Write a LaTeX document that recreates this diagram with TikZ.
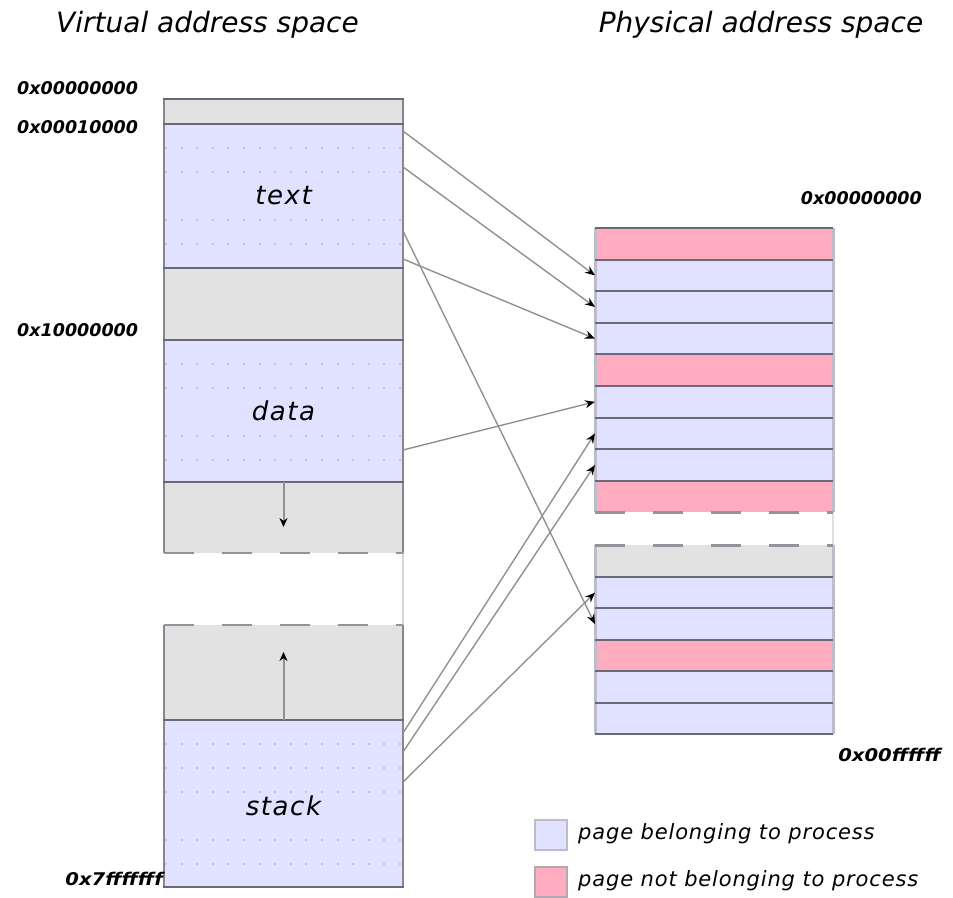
\documentclass[tikz,border=0pt]{standalone}
\usepackage{fontspec}
\setmainfont{DejaVu Sans}
\usetikzlibrary{arrows.meta}
\definecolor{pblue}{RGB}{224,226,255}
\definecolor{ppink}{RGB}{255,172,192}
\definecolor{pgray}{RGB}{226,226,226}
\definecolor{vborder}{RGB}{135,135,145}
\definecolor{hline}{RGB}{105,105,120}
\definecolor{pside}{RGB}{188,188,202}
\definecolor{dotc}{RGB}{195,195,210}
\definecolor{arrc}{RGB}{145,145,145}
\begin{document}
\begin{tikzpicture}[x=1pt,y=-1pt,
  vseg/.style={rectangle,inner sep=0pt,outer sep=0pt,minimum width=239pt,anchor=north west},
  pseg/.style={rectangle,inner sep=0pt,outer sep=0pt,minimum width=238pt,minimum height=31.6pt,anchor=north west},
  sepline/.style={draw=hline,line width=2pt},
  outline/.style={draw=vborder,line width=2pt},
  sideline/.style={draw=pside,line width=3pt},
  gapdash/.style={draw=vborder!90,line width=2.2pt,dash pattern=on 30pt off 28pt},
  dotrow/.style={draw=dotc,line width=2pt,dash pattern=on 2pt off 13.6pt},
  maparrow/.style={draw=arrc,line width=1.4pt,-{Stealth[length=10pt,width=8pt,black]}},
  growarrow/.style={draw=arrc,line width=2pt,-{Stealth[length=9pt,width=8pt,black]}},
  addrlbl/.style={font=\fontsize{17.5}{20}\selectfont\bfseries\itshape,inner sep=0pt},
  ttl/.style={font=\fontsize{28}{32}\selectfont\itshape,inner sep=0pt,anchor=base},
  seglabel/.style={font=\fontsize{26}{30}\selectfont\itshape\addfontfeature{LetterSpace=6},inner sep=0pt},
  legtext/.style={font=\fontsize{21}{24}\selectfont\itshape\addfontfeature{LetterSpace=4},inner sep=0pt,anchor=west},
  legbox/.style={rectangle,inner sep=0pt,minimum width=32pt,minimum height=30pt,line width=2pt}
]
\useasboundingbox (0,0) rectangle (953,897);

% titles
\node[ttl] (tv) at (207.5,32) {Virtual address space};
\node[ttl] (tp) at (761,32) {Physical address space};

% ---------- virtual address space ----------
\node[vseg,fill=pgray,minimum height=25pt] (v0) at (164,99) {};
\node[vseg,fill=pblue,minimum height=144pt] (vtext) at (164,124) {};
\node[vseg,fill=pgray,minimum height=72pt] (v1) at (164,268) {};
\node[vseg,fill=pblue,minimum height=142pt] (vdata) at (164,340) {};
\node[vseg,fill=pgray,minimum height=71pt] (vheap) at (164,482) {};
\node[vseg,fill=pgray,minimum height=95pt] (vfree) at (164,625) {};
\node[vseg,fill=pblue,minimum height=167pt] (vstack) at (164,720) {};

% dotted page rows
\foreach \y in {148,172,220,244,364,388,436,460,744,768,792,840,864}
  \draw[dotrow] (165,\y) -- (403,\y);

% outline and separators
\draw[outline] (164,99) -- (164,553);
\draw[outline] (403,99) -- (403,553);
\draw[outline] (164,625) -- (164,887);
\draw[outline] (403,625) -- (403,887);
\draw[draw=pside!60,line width=2pt] (403,553) -- (403,625);
\foreach \y in {99,124,268,340,482,720,887}
  \draw[sepline] (163,\y) -- (404,\y);
\draw[gapdash] (164,553) -- (403,553);
\draw[gapdash] (164,625) -- (403,625);

% segment labels
\node[seglabel] (ltext) at (283.5,196) {text};
\node[seglabel] (ldata) at (283.5,411) {data};
\node[seglabel] (lstack) at (283.5,806) {stack};

% growth arrows
\coordinate (hd) at (283.5,527);
\coordinate (su) at (283.5,652);
\draw[growarrow] (vheap.north) -- (hd);
\draw[growarrow] (vstack.north) -- (su);

% virtual addresses
\node[addrlbl,anchor=west] (a0) at (17,88) {0x00000000};
\node[addrlbl,anchor=west] (a1) at (17,127) {0x00010000};
\node[addrlbl,anchor=west] (a2) at (17,330) {0x10000000};
\node[addrlbl,anchor=east] (a3) at (163,879) {\scalebox{1.12}[1]{0x7fffffff}};

% ---------- physical address space ----------
\node[pseg,fill=ppink] (p1) at (595,228) {};
\node[pseg,fill=pblue] (p2) at (595,259.6) {};
\node[pseg,fill=pblue] (p3) at (595,291.2) {};
\node[pseg,fill=pblue] (p4) at (595,322.8) {};
\node[pseg,fill=ppink] (p5) at (595,354.4) {};
\node[pseg,fill=pblue] (p6) at (595,386) {};
\node[pseg,fill=pblue] (p7) at (595,417.6) {};
\node[pseg,fill=pblue] (p8) at (595,449.2) {};
\node[pseg,fill=ppink] (p9) at (595,480.8) {};
\node[pseg,fill=pgray,minimum height=31.5pt] (q1) at (595,545.4) {};
\node[pseg,fill=pblue,minimum height=31.5pt] (q2) at (595,576.9) {};
\node[pseg,fill=pblue,minimum height=31.5pt] (q3) at (595,608.4) {};
\node[pseg,fill=ppink,minimum height=31.5pt] (q4) at (595,639.9) {};
\node[pseg,fill=pblue,minimum height=31.5pt] (q5) at (595,671.4) {};
\node[pseg,fill=pblue,minimum height=31.5pt] (q6) at (595,702.9) {};

\draw[sideline] (595,228) -- (595,512.4);
\draw[sideline] (833,228) -- (833,512.4);
\draw[sideline] (595,545.4) -- (595,734.4);
\draw[sideline] (833,545.4) -- (833,734.4);
\draw[draw=pside!50,line width=2pt] (833,512.4) -- (833,545.4);
\foreach \y in {228,259.6,291.2,322.8,354.4,386,417.6,449.2,480.8,576.9,608.4,639.9,671.4,702.9,734.4}
  \draw[sepline] (595,\y) -- (833,\y);
\draw[gapdash] (595,512.4) -- (833,512.4);
\draw[gapdash] (595,545.4) -- (833,545.4);

\node[addrlbl,anchor=east] (b0) at (922,198) {0x00000000};
\node[addrlbl,anchor=east] (b1) at (941,755) {\scalebox{1.12}[1]{0x00ffffff}};

% ---------- mappings ----------
\coordinate (s1) at (403,131);
\coordinate (s2) at (403,167);
\coordinate (s3) at (403,231);
\coordinate (s4) at (403,259);
\coordinate (s5) at (403,450);
\coordinate (s6) at (403,733);
\coordinate (s7) at (403,752);
\coordinate (s8) at (403,782);
\draw[maparrow] (s1) -- (p2.west);
\draw[maparrow] (s2) -- (p3.west);
\draw[maparrow] (s3) -- (q3.west);
\draw[maparrow] (s4) -- (p4.west);
\draw[maparrow] (s5) -- (p6.west);
\draw[maparrow] (s6) -- (p7.west);
\draw[maparrow] (s7) -- (p8.west);
\draw[maparrow] (s8) -- (q2.west);

% ---------- legend ----------
\node[legbox,fill=pblue,draw=pside,anchor=north west] (lb) at (534,819) {};
\node[legbox,fill=ppink,draw=pside!80!ppink!70!gray,anchor=north west] (lp) at (534,866) {};
\node[legtext] (lbt) at (578,834) {page belonging to process};
\node[legtext] (lpt) at (578,881) {page not belonging to process};
\end{tikzpicture}
\end{document}
